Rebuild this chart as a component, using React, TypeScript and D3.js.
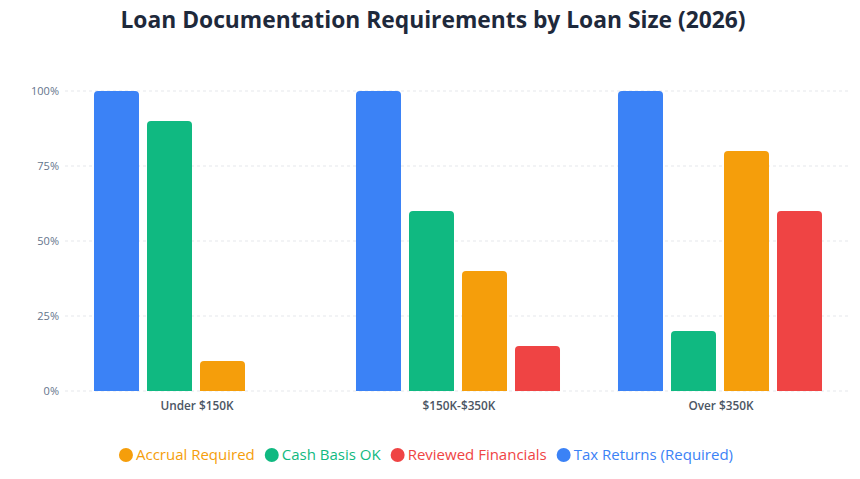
import React, { useEffect, useRef } from "react";
import * as d3 from "d3";

const categories = ["Under $150K", "$150K-$350K", "Over $350K"];
const seriesNames = ["Tax Returns (Required)", "Cash Basis OK", "Accrual Required", "Reviewed Financials"];
const taxReturns = [100, 100, 100];
const cashBasis = [90, 60, 20];
const accrual = [10, 40, 80];
const reviewed = [0, 15, 60];
const seriesColors = ["#3b82f6", "#10b981", "#f59e0b", "#ef4444"];
const legendOrder = ["Accrual Required", "Cash Basis OK", "Reviewed Financials", "Tax Returns (Required)"];
const yTicks = [0, 25, 50, 75, 100];

const W = 860;
const H = 479;
const FONT = "'Open Sans', 'Noto Sans', sans-serif";

export default function App() {
  const ref = useRef<SVGSVGElement>(null);
  useEffect(() => {
    const svg = d3.select(ref.current);
    svg.selectAll("*").remove();
    const values = [taxReturns, cashBasis, accrual, reviewed];
    const left = 65, right = 851, top = 91, bottom = 391;

    const x0 = d3.scaleBand<string>().domain(categories).range([left, right]).padding(0);
    const x1 = d3.scaleBand<string>().domain(seriesNames).range([0, x0.bandwidth()])
      .paddingInner(8 / 53).paddingOuter(0.547);
    const y = d3.scaleLinear().domain([0, 100]).range([bottom, top]);

    svg.append("text").attr("x", W / 2 + 3).attr("y", 28).attr("text-anchor", "middle")
      .attr("font-family", FONT).attr("font-weight", 700).attr("font-size", 22.8)
      .attr("fill", "#1e293b").text("Loan Documentation Requirements by Loan Size (2026)");

    const g = svg.append("g");
    yTicks.forEach((t) => {
      g.append("line").attr("x1", left).attr("x2", right).attr("y1", y(t)).attr("y2", y(t))
        .attr("stroke", "#e5e7eb").attr("stroke-dasharray", "3 3");
      g.append("text").attr("x", 59).attr("y", y(t)).attr("dy", "0.35em").attr("text-anchor", "end")
        .attr("font-family", FONT).attr("font-size", 11).attr("fill", "#64748b").text(`${t}%`);
    });

    const r = 4;
    categories.forEach((c, ci) => {
      seriesNames.forEach((s, si) => {
        const v = values[si][ci];
        if (v <= 0) return;
        const bx = x0(c)! + x1(s)!;
        const bw = x1.bandwidth();
        const by = y(v);
        const bh = y(0) - by;
        const path = `M${bx},${by + bh} V${by + r} Q${bx},${by} ${bx + r},${by} H${bx + bw - r} Q${bx + bw},${by} ${bx + bw},${by + r} V${by + bh} Z`;
        g.append("path").attr("d", path).attr("fill", seriesColors[si]);
      });
      g.append("text").attr("x", x0(c)! + x0.bandwidth() / 2 + 1).attr("y", 406).attr("dy", "0.35em")
        .attr("text-anchor", "middle").attr("font-family", FONT).attr("font-size", 11.8)
        .attr("font-weight", 600).attr("fill", "#4b5563").text(c);
    });

    // legend
    const lg = svg.append("g");
    const items: { g: any; w: number }[] = [];
    legendOrder.forEach((name) => {
      const idx = seriesNames.indexOf(name);
      const ig = lg.append("g");
      ig.append("circle").attr("cx", 7).attr("cy", 0).attr("r", 7).attr("fill", seriesColors[idx]);
      const t = ig.append("text").attr("x", 17).attr("y", 0).attr("dy", "0.35em")
        .attr("font-family", FONT).attr("font-size", 15).attr("fill", seriesColors[idx]).text(name);
      const tw = (t.node() as SVGTextElement).getComputedTextLength();
      items.push({ g: ig, w: 17 + tw });
    });
    const gap = 10;
    const total = d3.sum(items, (d) => d.w) + gap * (items.length - 1);
    let cx = W / 2 - total / 2 - 4;
    items.forEach((it) => {
      it.g.attr("transform", `translate(${cx},455)`);
      cx += it.w + gap;
    });
  }, []);
  return (
    <svg ref={ref} width={W} height={H} style={{ display: "block", position: "absolute", left: 0, top: 0 }} />
  );
}
